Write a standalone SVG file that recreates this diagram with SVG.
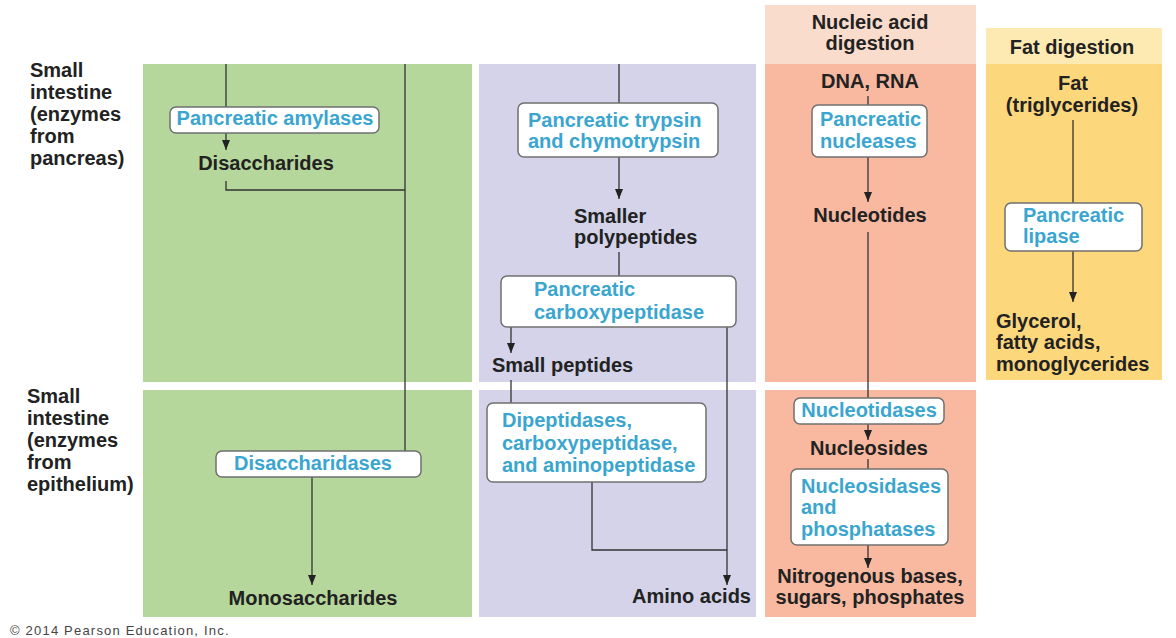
<svg xmlns="http://www.w3.org/2000/svg" width="1176" height="638" viewBox="0 0 1176 638">
<style>
.t{font-family:"Liberation Sans",Arial,sans-serif;font-weight:bold;font-size:20px;fill:#222}
.e{font-family:"Liberation Sans",Arial,sans-serif;font-weight:bold;font-size:20px;fill:#3aa6cf}
.m{text-anchor:middle}
.en{text-anchor:end}
.box{fill:#fff;stroke:#707070;stroke-width:1.5}
.ln{fill:none;stroke:#333;stroke-width:1.3}
.cp{font-family:"Liberation Sans",Arial,sans-serif;font-size:13px;letter-spacing:1.2px;fill:#444}
</style>
<defs>
<marker id="ah" viewBox="0 0 10 8" refX="10" refY="4" markerWidth="10" markerHeight="8" markerUnits="userSpaceOnUse" orient="auto">
<path d="M0,0 L10,4 L0,8 Z" fill="#222"/>
</marker>
</defs>
<rect width="1176" height="638" fill="#fff"/>
<g id="panels">
<rect x="143" y="64" width="329" height="318" fill="#b6d79b"/>
<rect x="143" y="390" width="329" height="227" fill="#b6d79b"/>
<rect x="479" y="64" width="277" height="318" fill="#d4d3e9"/>
<rect x="479" y="390" width="277" height="227" fill="#d4d3e9"/>
<rect x="765" y="5" width="211" height="59" fill="#fadccd"/>
<rect x="765" y="64" width="211" height="318" fill="#f8b9a0"/>
<rect x="765" y="390" width="211" height="227" fill="#f8b9a0"/>
<rect x="986" y="28" width="176" height="36" fill="#fdeab3"/>
<rect x="986" y="64" width="176" height="316" fill="#fdd77c"/>
</g>
<g id="row-labels">
<text class="t" x="30" y="77">Small</text>
<text class="t" x="30" y="99">intestine</text>
<text class="t" x="30" y="121">(enzymes</text>
<text class="t" x="30" y="143">from</text>
<text class="t" x="30" y="165">pancreas)</text>
<text class="t" x="27" y="403">Small</text>
<text class="t" x="27" y="425">intestine</text>
<text class="t" x="27" y="447">(enzymes</text>
<text class="t" x="27" y="469">from</text>
<text class="t" x="27" y="491">epithelium)</text>
</g>
<g id="headers">
<text class="t m" x="870" y="29">Nucleic acid</text>
<text class="t m" x="870" y="50">digestion</text>
<text class="t m" x="1072" y="54">Fat digestion</text>
</g>
<g id="connectors">
<line class="ln" x1="226" y1="64" x2="226" y2="107"/>
<line class="ln" x1="226" y1="133" x2="226" y2="150" marker-end="url(#ah)"/>
<path class="ln" d="M226,181 V190 H405"/>
<line class="ln" x1="405" y1="64" x2="405" y2="451"/>
<line class="ln" x1="312" y1="477" x2="312" y2="585" marker-end="url(#ah)"/>
<line class="ln" x1="619" y1="64" x2="619" y2="103"/>
<line class="ln" x1="619" y1="157" x2="619" y2="199" marker-end="url(#ah)"/>
<line class="ln" x1="619" y1="252" x2="619" y2="276"/>
<line class="ln" x1="511" y1="327" x2="511" y2="353" marker-end="url(#ah)"/>
<line class="ln" x1="511" y1="380" x2="511" y2="403"/>
<line class="ln" x1="727" y1="327" x2="727" y2="585" marker-end="url(#ah)"/>
<path class="ln" d="M592,482 V550 H727"/>
<line class="ln" x1="868" y1="96" x2="868" y2="105"/>
<line class="ln" x1="868" y1="157" x2="868" y2="202" marker-end="url(#ah)"/>
<line class="ln" x1="868" y1="232" x2="868" y2="398"/>
<line class="ln" x1="868" y1="424" x2="868" y2="440" marker-end="url(#ah)"/>
<line class="ln" x1="868" y1="459" x2="868" y2="469"/>
<line class="ln" x1="868" y1="545" x2="868" y2="568" marker-end="url(#ah)"/>
<line class="ln" x1="1073" y1="120" x2="1073" y2="203"/>
<line class="ln" x1="1073" y1="251" x2="1073" y2="302" marker-end="url(#ah)"/>
</g>
<g id="n-amylases">
<rect class="box" x="170" y="107" width="209" height="26" rx="6"/>
<text class="e m" x="275" y="125">Pancreatic amylases</text>
</g>
<g id="n-disaccharides"><text class="t m" x="266" y="170">Disaccharides</text></g>
<g id="n-disaccharidases">
<rect class="box" x="216" y="451" width="205" height="26" rx="6"/>
<text class="e m" x="313" y="470">Disaccharidases</text>
</g>
<g id="n-monosaccharides"><text class="t m" x="313" y="605">Monosaccharides</text></g>
<g id="n-trypsin">
<rect class="box" x="518" y="103" width="200" height="54" rx="6"/>
<text class="e" x="528" y="127">Pancreatic trypsin</text>
<text class="e" x="528" y="148">and chymotrypsin</text>
</g>
<g id="n-polypeptides">
<text class="t" x="574" y="223">Smaller</text>
<text class="t" x="574" y="244">polypeptides</text>
</g>
<g id="n-carboxypeptidase">
<rect class="box" x="501" y="276" width="235" height="51" rx="6"/>
<text class="e" x="534" y="296">Pancreatic</text>
<text class="e" x="534" y="319">carboxypeptidase</text>
</g>
<g id="n-smallpeptides"><text class="t" x="492" y="372">Small peptides</text></g>
<g id="n-dipeptidases">
<rect class="box" x="487" y="403" width="219" height="79" rx="6"/>
<text class="e" x="502" y="427">Dipeptidases,</text>
<text class="e" x="502" y="450">carboxypeptidase,</text>
<text class="e" x="502" y="472">and aminopeptidase</text>
</g>
<g id="n-aminoacids"><text class="t en" x="751" y="603">Amino acids</text></g>
<g id="n-dnarna"><text class="t m" x="870" y="88">DNA, RNA</text></g>
<g id="n-nucleases">
<rect class="box" x="812" y="105" width="115" height="52" rx="6"/>
<text class="e" x="820" y="126">Pancreatic</text>
<text class="e" x="820" y="148">nucleases</text>
</g>
<g id="n-nucleotides"><text class="t m" x="870" y="222">Nucleotides</text></g>
<g id="n-nucleotidases">
<rect class="box" x="794" y="398" width="150" height="26" rx="6"/>
<text class="e m" x="869" y="417">Nucleotidases</text>
</g>
<g id="n-nucleosides"><text class="t m" x="869" y="455">Nucleosides</text></g>
<g id="n-nucleosidases">
<rect class="box" x="791" y="469" width="157" height="76" rx="6"/>
<text class="e" x="801" y="493">Nucleosidases</text>
<text class="e" x="801" y="514">and</text>
<text class="e" x="801" y="536">phosphatases</text>
</g>
<g id="n-bases">
<text class="t m" x="870" y="583">Nitrogenous bases,</text>
<text class="t m" x="870" y="604">sugars, phosphates</text>
</g>
<g id="n-fat">
<text class="t m" x="1073" y="90">Fat</text>
<text class="t m" x="1072" y="112">(triglycerides)</text>
</g>
<g id="n-lipase">
<rect class="box" x="1005" y="203" width="137" height="48" rx="6"/>
<text class="e" x="1023" y="222">Pancreatic</text>
<text class="e" x="1023" y="243">lipase</text>
</g>
<g id="n-glycerol">
<text class="t" x="996" y="328">Glycerol,</text>
<text class="t" x="996" y="349">fatty acids,</text>
<text class="t" x="996" y="371">monoglycerides</text>
</g>
<text class="cp" x="10" y="635">© 2014 Pearson Education, Inc.</text>
</svg>
